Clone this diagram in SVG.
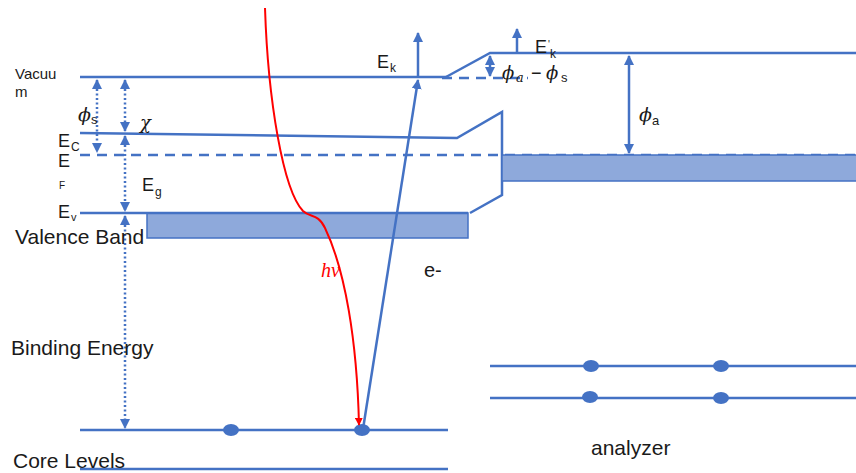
<svg xmlns="http://www.w3.org/2000/svg" width="856" height="473" viewBox="0 0 856 473">
<style>
.ln{stroke:#4472C4;stroke-width:2.5;fill:none}
.dash{stroke:#4472C4;stroke-width:2.5;fill:none;stroke-dasharray:10,7}
.dot{stroke:#4472C4;stroke-width:2.5;fill:none;stroke-dasharray:2,2.5}
.band{fill:#8EA9DB;stroke:#4472C4;stroke-width:1.5}
.t{font-family:"Liberation Sans",Arial,sans-serif;fill:#1a1a1a}
.m{font-family:"DejaVu Serif","Liberation Serif",serif;font-style:italic;fill:#1a1a1a}
.e{fill:#4472C4}
</style>
<defs>
<marker id="ab" viewBox="0 0 10 10" refX="9" refY="5" markerWidth="4" markerHeight="4" orient="auto-start-reverse"><path d="M0,0L10,5L0,10z" fill="#4472C4"/></marker>
<marker id="ar" viewBox="0 0 10 10" refX="9" refY="5" markerWidth="4" markerHeight="4" orient="auto"><path d="M0,0L10,5L0,10z" fill="#FF0000"/></marker>
</defs>
<g id="levels">
<line class="ln" x1="80" y1="77" x2="448" y2="77"/>
<polyline class="ln" points="446,77 490,53 856,53"/>
<line class="dash" x1="442" y1="78" x2="528" y2="78"/>
<polyline class="ln" points="80,133 457,138 502,112 502,195 470,213"/>
<line class="dash" x1="80" y1="155" x2="856" y2="155"/>
<rect class="band" x="502" y="155" width="356" height="26"/>
<rect class="band" x="147" y="213" width="321" height="25"/>
<line class="ln" x1="80" y1="213" x2="468" y2="213"/>
<line class="ln" x1="80" y1="430" x2="448" y2="430"/>
<line class="ln" x1="80" y1="469" x2="448" y2="469"/>
<line class="ln" x1="490" y1="366" x2="856" y2="366"/>
<line class="ln" x1="490" y1="398" x2="856" y2="398"/>
</g>
<g id="electrons">
<ellipse class="e" cx="231" cy="430" rx="8" ry="6"/>
<ellipse class="e" cx="362" cy="430" rx="8" ry="6"/>
<ellipse class="e" cx="591" cy="366" rx="8" ry="6"/>
<ellipse class="e" cx="721" cy="366" rx="8" ry="6"/>
<ellipse class="e" cx="590" cy="397" rx="8" ry="6"/>
<ellipse class="e" cx="721" cy="398" rx="8" ry="6"/>
</g>
<g id="connectors">
<line class="dot" x1="97" y1="80" x2="97" y2="152" marker-start="url(#ab)" marker-end="url(#ab)"/>
<line class="dot" x1="125" y1="80" x2="125" y2="131" marker-start="url(#ab)" marker-end="url(#ab)"/>
<line class="dot" x1="125" y1="136" x2="125" y2="211" marker-start="url(#ab)" marker-end="url(#ab)"/>
<line class="dot" x1="125" y1="216" x2="125" y2="428" marker-start="url(#ab)" marker-end="url(#ab)"/>
<line class="ln" x1="629" y1="56" x2="629" y2="153" marker-start="url(#ab)" marker-end="url(#ab)"/>
<line class="ln" x1="490" y1="56" x2="490" y2="76" marker-start="url(#ab)" marker-end="url(#ab)"/>
<line class="ln" x1="418" y1="76" x2="418" y2="33" marker-end="url(#ab)"/>
<line class="ln" x1="517" y1="52" x2="517" y2="29" marker-end="url(#ab)"/>
<line class="ln" x1="363" y1="429" x2="418" y2="80" marker-end="url(#ab)"/>
<path d="M265,8 C268,100 283,190 303,211 C310,218 318,213 325,228 C345,270 357,340 359,425" stroke="#FF0000" stroke-width="2" fill="none" marker-end="url(#ar)"/>
</g>
<g id="labels">
<text class="t" x="15" y="79" font-size="15">Vacuu</text>
<text class="t" x="15" y="97" font-size="15">m</text>
<text class="m" x="78" y="121" font-size="19">ϕ</text><text class="t" x="91" y="124" font-size="13">s</text>
<text class="m" x="140" y="129" font-size="18">χ</text>
<text class="t" x="58" y="147" font-size="18">E</text><text class="t" x="71" y="151" font-size="12">C</text>
<text class="t" x="58" y="167" font-size="18">E</text>
<text class="t" x="59" y="189" font-size="10">F</text>
<text class="t" x="142" y="191" font-size="18">E</text><text class="t" x="155" y="196" font-size="12">g</text>
<text class="t" x="58" y="218" font-size="18">E</text><text class="t" x="71" y="221" font-size="11">v</text>
<text class="t" x="15" y="244" font-size="21">Valence Band</text>
<text class="t" x="11" y="355" font-size="21">Binding Energy</text>
<text class="t" x="13" y="468" font-size="21">Core Levels</text>
<text class="t" x="591" y="455" font-size="21">analyzer</text>
<text class="t" x="424" y="277" font-size="20">e-</text>
<text x="321" y="277" font-size="20" font-style="italic" fill="#FF0000" font-family="'Liberation Serif',serif">hν</text>
<text class="t" x="377" y="68" font-size="18">E</text><text class="t" x="390" y="72" font-size="12">k</text>
<text class="t" x="535" y="53" font-size="18">E</text><text class="t" x="548" y="48" font-size="10">'</text><text class="t" x="550" y="58" font-size="12">k</text>
<text class="m" x="502" y="79" font-size="18">ϕ</text><text class="m" x="516" y="82" font-size="13">a</text><text class="t" x="531" y="79" font-size="18">−</text><text class="m" x="546" y="79" font-size="18">ϕ</text><text class="t" x="561" y="82" font-size="13">s</text>
<text class="m" x="639" y="121" font-size="19">ϕ</text><text class="t" x="652" y="125" font-size="13">a</text>
</g>
</svg>
